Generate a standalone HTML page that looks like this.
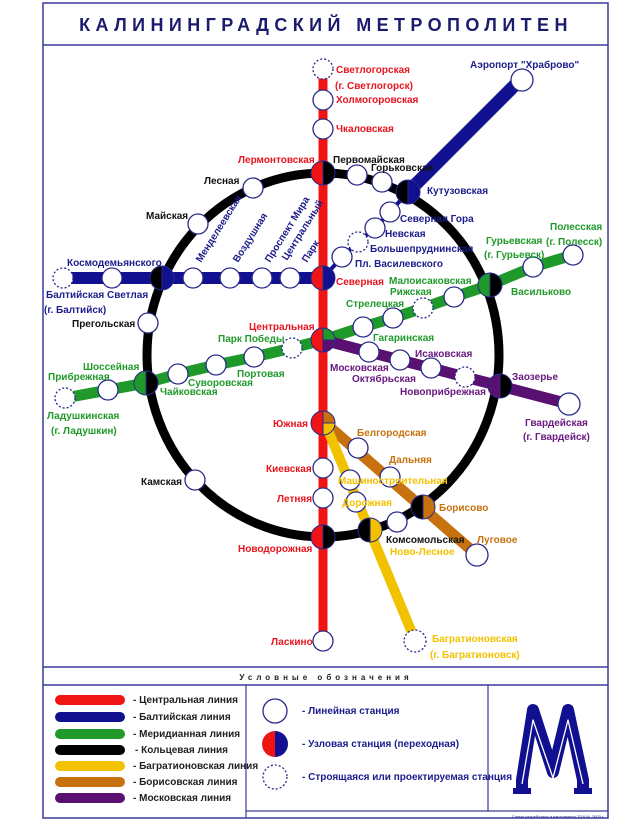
<!DOCTYPE html>
<html><head><meta charset="utf-8"><style>
body{margin:0;background:#fff}
svg{display:block}
text{font-family:"Liberation Sans",sans-serif;font-weight:bold;font-size:10px}
.r{fill:#e8141e}.b{fill:#1c1c8c}.g{fill:#1f9a2a}.k{fill:#111}.o{fill:#c8720f}.y{fill:#f2c200}.p{fill:#6a1a80}
.st{fill:#fff;stroke:#28288a;stroke-width:1.3}
.ds{fill:#fff;stroke:#28288a;stroke-width:1.3;stroke-dasharray:2,2}
</style></head><body>
<svg width="640" height="833" viewBox="0 0 640 833" xmlns="http://www.w3.org/2000/svg">
<rect x="43" y="3" width="565" height="815" fill="#fff" stroke="#3a3a9a" stroke-width="1.5"/>
<line x1="43" y1="45" x2="608" y2="45" stroke="#3a3a9a" stroke-width="1.5"/>
<text x="326" y="31" text-anchor="middle" style="font-size:18px;letter-spacing:5.4px;fill:#1c1c6e">КАЛИНИНГРАДСКИЙ МЕТРОПОЛИТЕН</text>

<line x1="323" y1="70" x2="323" y2="640" stroke="#f01414" stroke-width="9"/>
<ellipse cx="323" cy="355" rx="176" ry="182" fill="none" stroke="#000" stroke-width="9"/>
<line x1="65" y1="278" x2="323" y2="278" stroke="#101090" stroke-width="12"/>
<line x1="408" y1="192" x2="522" y2="78" stroke="#101090" stroke-width="13"/>
<polyline points="323,278 342,257 358,242 375,228 390,212 408,192" fill="none" stroke="#101090" stroke-width="4"/>
<polyline points="65,398 108,390 146,383 178,374 216,365 254,357 292,348 323,340 363,327 393,318 423,308 454,297 490,285 533,267 573,255" fill="none" stroke="#1f9a2a" stroke-width="11"/>
<polyline points="323,340 369,352 400,360 431,368 465,377 500,386 569,404" fill="none" stroke="#5a1070" stroke-width="11"/>
<line x1="325" y1="423" x2="477" y2="555" stroke="#c8720f" stroke-width="11"/>
<line x1="325" y1="423" x2="415" y2="640" stroke="#f2c200" stroke-width="10"/>

<g class="st">
<circle cx="323" cy="100" r="10"/><circle cx="323" cy="129" r="10"/>
<circle cx="323" cy="468" r="10"/><circle cx="323" cy="498" r="10"/><circle cx="323" cy="641" r="10"/>
<circle cx="522" cy="80" r="11"/>
<circle cx="357" cy="175" r="10"/><circle cx="382" cy="182" r="10"/>
<circle cx="253" cy="188" r="10"/><circle cx="198" cy="224" r="10"/>
<circle cx="390" cy="212" r="10"/><circle cx="375" cy="228" r="10"/><circle cx="342" cy="257" r="10"/>
<circle cx="112" cy="278" r="10"/><circle cx="193" cy="278" r="10"/><circle cx="230" cy="278" r="10"/><circle cx="262" cy="278" r="10"/><circle cx="290" cy="278" r="10"/>
<circle cx="148" cy="323" r="10"/><circle cx="195" cy="480" r="10"/>
<circle cx="108" cy="390" r="10"/><circle cx="178" cy="374" r="10"/><circle cx="216" cy="365" r="10"/><circle cx="254" cy="357" r="10"/>
<circle cx="363" cy="327" r="10"/><circle cx="393" cy="318" r="10"/><circle cx="454" cy="297" r="10"/><circle cx="533" cy="267" r="10"/><circle cx="573" cy="255" r="10"/>
<circle cx="369" cy="352" r="10"/><circle cx="400" cy="360" r="10"/><circle cx="431" cy="368" r="10"/><circle cx="569" cy="404" r="11"/>
<circle cx="358" cy="448" r="10"/><circle cx="390" cy="477" r="10"/><circle cx="477" cy="555" r="11"/>
<circle cx="350" cy="480" r="10"/><circle cx="356" cy="502" r="10"/><circle cx="397" cy="522" r="10"/>
</g>
<g class="ds">
<circle cx="323" cy="69" r="10"/><circle cx="63" cy="278" r="10"/><circle cx="65" cy="398" r="10"/>
<circle cx="358" cy="242" r="10"/><circle cx="292" cy="348" r="10"/><circle cx="423" cy="308" r="10"/>
<circle cx="465" cy="377" r="10"/><circle cx="415" cy="641" r="11"/>
</g>

<g stroke="#28288a" stroke-width="1">
<path d="M323,161 A12,12 0 0 0 323,185Z" fill="#f01414"/><path d="M323,161 A12,12 0 0 1 323,185Z" fill="#000"/>
<path d="M323,266 A12,12 0 0 0 323,290Z" fill="#f01414"/><path d="M323,266 A12,12 0 0 1 323,290Z" fill="#101090"/>
<path d="M408,180 A12,12 0 0 0 408,204Z" fill="#000"/><path d="M408,180 A12,12 0 0 1 408,204Z" fill="#101090"/>
<path d="M162,266 A12,12 0 0 0 162,290Z" fill="#000"/><path d="M162,266 A12,12 0 0 1 162,290Z" fill="#101090"/>
<path d="M490,273 A12,12 0 0 0 490,297Z" fill="#1f9a2a"/><path d="M490,273 A12,12 0 0 1 490,297Z" fill="#000"/>
<path d="M146,371 A12,12 0 0 0 146,395Z" fill="#1f9a2a"/><path d="M146,371 A12,12 0 0 1 146,395Z" fill="#000"/>
<path d="M500,374 A12,12 0 0 0 500,398Z" fill="#5a1070"/><path d="M500,374 A12,12 0 0 1 500,398Z" fill="#000"/>
<path d="M323,525 A12,12 0 0 0 323,549Z" fill="#f01414"/><path d="M323,525 A12,12 0 0 1 323,549Z" fill="#000"/>
<path d="M370,518 A12,12 0 0 0 370,542Z" fill="#000"/><path d="M370,518 A12,12 0 0 1 370,542Z" fill="#f2c200"/>
<path d="M423,495 A12,12 0 0 0 423,519Z" fill="#000"/><path d="M423,495 A12,12 0 0 1 423,519Z" fill="#c8720f"/>
<path d="M323,328 A12,12 0 0 0 323,352Z" fill="#f01414"/><path d="M323,328 A12,12 0 0 1 335,340 L323,340Z" fill="#1f9a2a"/><path d="M335,340 A12,12 0 0 1 323,352 L323,340Z" fill="#5a1070"/>
<path d="M323,411 A12,12 0 0 0 323,435Z" fill="#f01414"/><path d="M323,411 A12,12 0 0 1 335,423 L323,423Z" fill="#c8720f"/><path d="M335,423 A12,12 0 0 1 323,435 L323,423Z" fill="#f2c200"/>
</g>

<g class="r">
<text x="336" y="73">Светлогорская</text><text x="335" y="89">(г. Светлогорск)</text>
<text x="336" y="103">Холмогоровская</text><text x="336" y="132">Чкаловская</text>
<text x="238" y="163">Лермонтовская</text>
<text x="336" y="285">Северная</text><text x="249" y="330">Центральная</text>
<text x="273" y="427">Южная</text><text x="266" y="472">Киевская</text><text x="277" y="502">Летняя</text>
<text x="238" y="552">Новодорожная</text><text x="271" y="645">Ласкино</text>
</g>
<g class="b">
<text x="470" y="68">Аэропорт "Храброво"</text>
<text x="427" y="194">Кутузовская</text>
<text x="400" y="222">Северная Гора</text><text x="385" y="237">Невская</text>
<text x="370" y="252">Большепруднинская</text><text x="355" y="267">Пл. Василевского</text>
<text x="67" y="266">Космодемьянского</text>
<text x="46" y="298">Балтийская</text><text x="107" y="298">Светлая</text><text x="44" y="313">(г. Балтийск)</text>
<text transform="translate(201,263) rotate(-58)">Менделеевская</text>
<text transform="translate(238,263) rotate(-58)">Воздушная</text>
<text transform="translate(270,263) rotate(-58)">Проспект Мира</text>
<text transform="translate(287,261) rotate(-58)">Центральный</text>
<text transform="translate(307,263) rotate(-58)">Парк</text>
</g>
<g class="k">
<text x="333" y="163">Первомайская</text><text x="371" y="171">Горьковская</text>
<text x="204" y="184">Лесная</text><text x="146" y="219">Майская</text>
<text x="72" y="327">Прегольская</text><text x="141" y="485">Камская</text>
<text x="386" y="543">Комсомольская</text>
</g>
<g class="g">
<text x="550" y="230">Полесская</text><text x="546" y="245">(г. Полесск)</text>
<text x="486" y="244">Гурьевская</text><text x="484" y="258">(г. Гурьевск)</text>
<text x="389" y="284">Малоисаковская</text><text x="390" y="295">Рижская</text>
<text x="346" y="307">Стрелецкая</text><text x="511" y="295">Васильково</text>
<text x="218" y="342">Парк Победы</text><text x="373" y="341">Гагаринская</text>
<text x="83" y="370">Шоссейная</text><text x="48" y="380">Прибрежная</text>
<text x="237" y="377">Портовая</text><text x="188" y="386">Суворовская</text><text x="160" y="395">Чайковская</text>
<text x="47" y="419">Ладушкинская</text><text x="51" y="434">(г. Ладушкин)</text>
</g>
<g class="p">
<text x="330" y="371">Московская</text><text x="352" y="382">Октябрьская</text>
<text x="415" y="357">Исаковская</text><text x="400" y="395">Новоприбрежная</text>
<text x="512" y="380">Заозерье</text>
<text x="525" y="426">Гвардейская</text><text x="523" y="440">(г. Гвардейск)</text>
</g>
<g class="o">
<text x="357" y="436">Белгородская</text><text x="389" y="463">Дальняя</text>
<text x="439" y="511">Борисово</text><text x="477" y="543">Луговое</text>
</g>
<g class="y">
<text x="338" y="484">Машиностроительная</text><text x="342" y="506">Дорожная</text>
<text x="390" y="555">Ново-Лесное</text>
<text x="432" y="642">Багратионовская</text><text x="430" y="658">(г. Багратионовск)</text>
</g>

<line x1="43" y1="667" x2="608" y2="667" stroke="#3a3a9a" stroke-width="1.5"/>
<line x1="43" y1="685" x2="608" y2="685" stroke="#3a3a9a" stroke-width="1.5"/>
<text x="326" y="680" text-anchor="middle" style="font-size:8px;letter-spacing:4px;fill:#222">Условные обозначения</text>
<line x1="246" y1="685" x2="246" y2="818" stroke="#3a3a9a" stroke-width="1.2"/>
<line x1="488" y1="685" x2="488" y2="811" stroke="#3a3a9a" stroke-width="1.2"/>
<line x1="246" y1="811" x2="608" y2="811" stroke="#3a3a9a" stroke-width="1.2"/>
<g stroke-width="10" stroke-linecap="round">
<line x1="60" y1="700" x2="120" y2="700" stroke="#f01414"/>
<line x1="60" y1="717" x2="120" y2="717" stroke="#101090"/>
<line x1="60" y1="734" x2="120" y2="734" stroke="#1f9a2a"/>
<line x1="60" y1="750" x2="120" y2="750" stroke="#000"/>
<line x1="60" y1="766" x2="120" y2="766" stroke="#f2c200"/>
<line x1="60" y1="782" x2="120" y2="782" stroke="#c8720f"/>
<line x1="60" y1="798" x2="120" y2="798" stroke="#5a1070"/>
</g>
<g style="font-size:7px" fill="#222">
<text x="133" y="703">- Центральная линия</text><text x="133" y="720">- Балтийская линия</text>
<text x="133" y="737">- Меридианная линия</text><text x="135" y="753">- Кольцевая линия</text>
<text x="133" y="769">- Багратионовская линия</text><text x="133" y="785">- Борисовская линия</text>
<text x="133" y="801">- Московская линия</text>
</g>
<circle cx="275" cy="711" r="12" fill="#fff" stroke="#28288a" stroke-width="1.3"/>
<path d="M275,731 A13,13 0 0 0 275,757Z" fill="#f01414"/><path d="M275,731 A13,13 0 0 1 275,757Z" fill="#101090"/>
<circle cx="275" cy="777" r="12" fill="#fff" stroke="#28288a" stroke-width="1.3" stroke-dasharray="2,2"/>
<g style="font-size:7px" fill="#1c1c8c">
<text x="302" y="714">- Линейная станция</text>
<text x="302" y="747">- Узловая станция (переходная)</text>
<text x="302" y="780">- Строящаяся или проектируемая станция</text>
</g>
<text x="604" y="818" text-anchor="end" style="font-size:4px;font-weight:normal" fill="#1c1c8c">Схема разработана и изготовлена ТЛ.К.М. 2003 г.</text>
<polyline points="522,790 522,780 533,710 553,772 568,710 583,780 583,790" fill="none" stroke="#101090" stroke-width="12" stroke-linejoin="round"/>
<polyline points="522,784 533,720 553,778 568,720 583,784" fill="none" stroke="#fff" stroke-width="1.3" stroke-linejoin="round"/>
<line x1="513" y1="791" x2="531" y2="791" stroke="#101090" stroke-width="6"/>
<line x1="574" y1="791" x2="592" y2="791" stroke="#101090" stroke-width="6"/>
</svg>
</body></html>
